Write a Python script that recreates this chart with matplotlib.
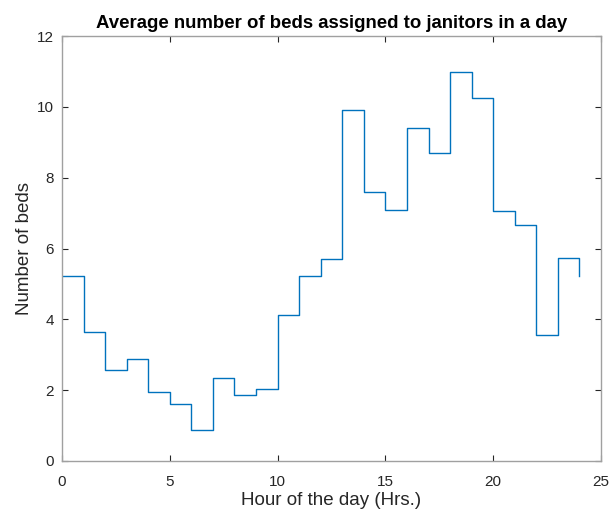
import matplotlib
matplotlib.use("Agg")
import matplotlib.pyplot as plt

plt.rcParams["font.family"] = ["Liberation Sans", "DejaVu Sans"]

# Hour of the day and average number of beds (last point repeats hour 0)
hours = list(range(25))
beds = [5.22, 3.63, 2.56, 2.87, 1.94, 1.61, 0.87, 2.33, 1.85, 2.03,
        4.11, 5.22, 5.70, 9.91, 7.59, 7.09, 9.41, 8.71, 10.97, 10.25,
        7.07, 6.67, 3.57, 5.73, 5.23]

fig = plt.figure(figsize=(6.10, 5.14), dpi=100)
ax = fig.add_axes([62 / 610, 1 - 461 / 514, 539 / 610, 425 / 514])

ax.step(hours, beds, where="post", color="#0072BD", linewidth=1.0)

ax.set_xlim(0, 25)
ax.set_ylim(0, 12)
ax.set_xticks([0, 5, 10, 15, 20, 25])
ax.set_yticks([0, 2, 4, 6, 8, 10, 12])

for s in ax.spines.values():
    s.set_color("#a0a0a0")
    s.set_linewidth(1.0)
ax.tick_params(direction="in", length=4, width=0.8, color="#262626",
               labelsize=11, labelcolor="#262626",
               top=True, right=True)
ax.tick_params(axis="x", pad=10)
ax.tick_params(axis="y", pad=6)

ax.set_xlabel("Hour of the day (Hrs.)", fontsize=13.5, color="#262626", labelpad=2)
ax.set_ylabel("Number of beds", fontsize=13.5, color="#262626", labelpad=3)
ax.set_title("Average number of beds assigned to janitors in a day",
             fontsize=13.4, fontweight="bold", pad=6)

fig.savefig("out.png", dpi=100)
plt.close(fig)
